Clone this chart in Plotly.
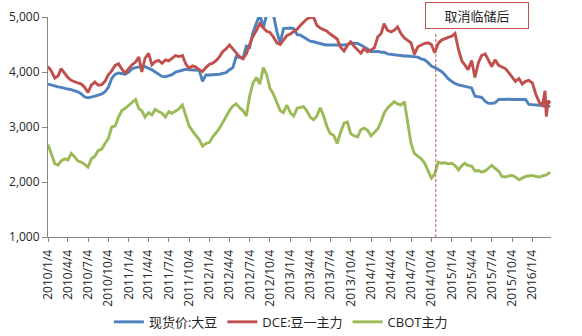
import plotly.graph_objects as go

# Semi-monthly sample dates (4th and 19th), plus a denser tail in March 2016
dates = []
for yr in range(2010, 2017):
    for mo in range(1, 13):
        for dd in (4, 19):
            dates.append(f"{yr}-{mo:02d}-{dd:02d}")
dates = dates[:148] + ["2016-03-01", "2016-03-07", "2016-03-14", "2016-03-25"]

# 现货价:大豆 (spot soybean, yuan/t)
spot = [
    3780, 3760, 3740, 3730, 3720, 3700, 3690, 3680, 3660, 3640, 3600, 3545,
    3530, 3540, 3560, 3580, 3600, 3640, 3720, 3880, 3960, 3980, 3970, 3960,
    4000, 4060, 4080, 4090, 4100, 4095, 4070, 4040, 4000, 3960, 3920, 3915,
    3930, 3950, 4000, 4020, 4040, 4050, 4040, 4035, 4035, 4030, 3830, 3945,
    3945, 3950, 3950, 3960, 3975, 3990, 4040, 4080, 4280, 4260, 4250, 4470,
    4450, 4720, 4900, 5050, 4800, 5050, 5080, 5050, 4740, 4520, 4790, 4800,
    4800, 4790, 4680, 4670, 4640, 4600, 4560, 4550, 4530, 4510, 4500, 4490,
    4490, 4490, 4485, 4480, 4490, 4500, 4520, 4525, 4520, 4490, 4460, 4420,
    4370, 4370, 4375, 4360, 4360, 4330, 4320, 4310, 4300, 4295, 4290, 4290,
    4285, 4280, 4270, 4240, 4220, 4170, 4110, 4080, 4040, 4010, 3950, 3880,
    3830, 3790, 3765, 3750, 3740, 3730, 3710, 3560, 3550, 3540, 3470, 3430,
    3430, 3440, 3500, 3505, 3505, 3505, 3500, 3500, 3500, 3500, 3500, 3410,
    3405, 3400, 3400, 3390, 3375, 3370, 3375, 3380,
]

# DCE:豆一主力 (Dalian No.1 soybean main contract)
dce = [
    4100, 4020, 3890, 3930, 4060, 3980, 3900, 3850, 3820, 3800, 3780, 3720,
    3630, 3760, 3820, 3760, 3770, 3830, 3950, 4020, 4120, 4150, 4050, 3980,
    4060, 4130, 4180, 4270, 4000, 4250, 4340, 4130, 4190, 4210, 4160, 4220,
    4200, 4250, 4300, 4280, 4300, 4150, 4070, 4110, 4090, 4040, 4010, 4080,
    4140, 4160, 4210, 4280, 4370, 4420, 4490, 4420, 4340, 4280, 4240, 4330,
    4500, 4650, 4760, 4880, 4800, 4740, 4720, 4640, 4530, 4500, 4580, 4660,
    4690, 4740, 4780, 4850, 4900, 4960, 4990, 5000, 4850, 4800, 4770, 4740,
    4690, 4640, 4600, 4450, 4380, 4480, 4550, 4470, 4400, 4340, 4430, 4370,
    4400, 4440, 4640, 4700, 4880, 4760, 4730, 4760, 4820, 4700, 4620, 4580,
    4530, 4320, 4460, 4490, 4520, 4530, 4500, 4350, 4520, 4580, 4610, 4630,
    4650, 4700, 4400, 4200, 4130, 4040, 4210, 3900, 4160, 4300, 4330, 4200,
    4100, 4220, 4120, 4090, 4060, 3990, 3900, 3830, 3880, 3780, 3830, 3850,
    3800, 3600, 3450, 3400, 3660, 3190, 3480, 3430,
]

# CBOT主力 (CBOT soybean main contract, converted)
cbot = [
    2680, 2500, 2330, 2310, 2380, 2420, 2400, 2520, 2460, 2380, 2360, 2320,
    2270, 2420, 2470, 2570, 2600, 2700, 2790, 3000, 3020, 3180, 3300, 3340,
    3400, 3440, 3500, 3330, 3300, 3180, 3260, 3220, 3320, 3280, 3250, 3180,
    3280, 3250, 3300, 3330, 3400, 3200, 3020, 2930, 2840, 2770, 2650, 2700,
    2720, 2820, 2900, 2980, 3080, 3200, 3300, 3380, 3420, 3350, 3300, 3200,
    3560, 3800, 3900, 3780, 4080, 3950, 3700, 3600, 3450, 3300, 3260, 3400,
    3260, 3200, 3340, 3360, 3370, 3300, 3180, 3130, 3200, 3350, 3200, 3000,
    2880, 2850, 2700, 2900, 3070, 3090, 2880, 2840, 2820, 2950, 2980, 2940,
    2840, 2900, 2970, 3100, 3250, 3340, 3400, 3460, 3420, 3400, 3460, 3050,
    2700, 2520, 2460, 2420, 2340, 2200, 2070, 2150, 2360, 2340, 2350, 2330,
    2340, 2300, 2220, 2300, 2340, 2300, 2290, 2200, 2210, 2180, 2200, 2250,
    2300, 2250, 2200, 2100, 2090, 2110, 2120, 2090, 2040, 2070, 2100, 2110,
    2120, 2100, 2090, 2110, 2120, 2130, 2150, 2176,
]

series_names = ["现货价:大豆", "DCE:豆一主力", "CBOT主力"]
series_colors = ["#4F81BD", "#C0504D", "#9BBB59"]

# Quarterly tick labels
tick_dates = [f"{yr}-{mo:02d}-04" for yr in range(2010, 2017) for mo in (1, 4, 7, 10)][:25]
tick_text = [f"{int(d[:4])}/{int(d[5:7])}/4" for d in tick_dates]

policy_date = "2014-10-24"
policy_label = "取消临储后"

font_family = "Open Sans, Noto Sans CJK SC, sans-serif"
text_color = "#262626"
axis_color = "#868686"

fig = go.Figure()
for name, vals, color in zip(series_names, [spot, dce, cbot], series_colors):
    fig.add_trace(go.Scatter(
        x=dates, y=vals, mode="lines", name=name,
        line=dict(color=color, width=2.9),
    ))

# Policy change marker
fig.add_shape(
    type="line", xref="x", yref="paper",
    x0=policy_date, x1=policy_date, y0=0, y1=0.93,
    line=dict(color="#D0504D", width=1, dash="3px,2px"),
)
fig.add_annotation(
    xref="paper", yref="paper", x=0.853, y=1.005,
    xanchor="center", yanchor="middle",
    text=policy_label, showarrow=False,
    font=dict(family=font_family, size=13, color=text_color),
    width=100, height=23, borderpad=1,
    bordercolor="#C0504D", borderwidth=1, bgcolor="#FFFFFF",
)

fig.update_layout(
    width=582, height=336,
    margin=dict(l=48, r=31, t=17, b=99, autoexpand=False),
    paper_bgcolor="#FFFFFF", plot_bgcolor="#FFFFFF",
    font=dict(family=font_family, size=12, color=text_color),
    showlegend=True,
    legend=dict(
        orientation="h", xref="paper", x=0.463, xanchor="center",
        yref="container", y=0.042, yanchor="middle",
        font=dict(family=font_family, size=13, color=text_color),
        itemwidth=30, bgcolor="rgba(0,0,0,0)",
    ),
)
fig.update_xaxes(
    type="date", range=["2010-01-04", "2016-03-28"],
    tickmode="array", tickvals=tick_dates, ticktext=tick_text,
    tickangle=-90, ticks="outside", ticklen=4, tickcolor=axis_color,
    ticklabelstandoff=3,
    showline=True, linecolor=axis_color, linewidth=1,
    showgrid=False, zeroline=False,
    tickfont=dict(family=font_family, size=12, color=text_color),
)
fig.update_yaxes(
    range=[1000, 5000], tickvals=[1000, 2000, 3000, 4000, 5000],
    tickformat=",d", ticks="outside", ticklen=5, tickcolor=axis_color,
    showline=True, linecolor=axis_color, linewidth=1,
    showgrid=False, zeroline=False,
    tickfont=dict(family=font_family, size=12, color=text_color),
)

fig.write_html("out.html")
